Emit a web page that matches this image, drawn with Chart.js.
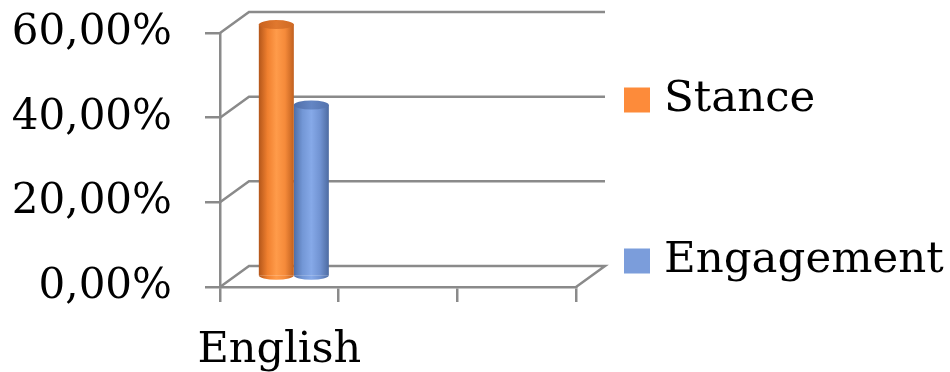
<!DOCTYPE html>
<html>
<head>
<meta charset="utf-8">
<script src="https://cdn.jsdelivr.net/npm/chart.js@4.4.1/dist/chart.umd.min.js"></script>
<style>
  html, body { margin: 0; padding: 0; background: #fff; }
</style>
</head>
<body>
<canvas id="chart" width="950" height="372"></canvas>
<script>
// chart data
const categories = ['English', '', ''];
const stanceValues = [0.595, null, null];
const engagementValues = [0.405, null, null];
const seriesNames = ['Stance', 'Engagement'];
const yTicks = [0, 0.2, 0.4, 0.6];

// look
const FONT = '"DejaVu Serif", "Liberation Serif", serif';
const GRID = '#8a8a8a';
const LINE_W = 2.5;
const DX = 29, DY = -21;           // depth of the 3D box
const swatch = ['#fd8b3a', '#7b9ddb'];
const shades = [
    { side: ['#b3561a', '#f0802f', '#ff9b4a', '#f58a3a', '#c0601f'], top: ['#c9611d', '#e0782e', '#cf6a24'] },
    { side: ['#4f6ea6', '#7397d6', '#86a9e8', '#7193d2', '#4d6ba1'], top: ['#506ea8', '#6486c4', '#5473ad'] }
];

function cylinderGradient(ctx, x0, x1, stops) {
    const g = ctx.createLinearGradient(x0, 0, x1, 0);
    stops.forEach((c, i) => g.addColorStop(i / (stops.length - 1), c));
    return g;
}

function eachBar(chart, fn) {
    chart.data.datasets.forEach((ds, i) => {
        chart.getDatasetMeta(i).data.forEach((bar, j) => {
            if (ds.data[j] == null) return;
            fn(bar, i);
        });
    });
}

const box3d = {
    id: 'box3d',
    beforeDatasetsDraw(chart) {
        const { ctx, chartArea: a, scales: { y } } = chart;
        ctx.save();
        ctx.strokeStyle = GRID;
        ctx.lineWidth = LINE_W;
        yTicks.forEach(v => {
            const py = y.getPixelForValue(v);
            ctx.beginPath();
            ctx.moveTo(a.left, py);
            ctx.lineTo(a.left + DX, py + DY);
            ctx.lineTo(a.right + DX, py + DY);
            if (v === 0) ctx.lineTo(a.right, py);
            ctx.stroke();
        });
        ctx.restore();

        // cylinder shading on the bars chart.js lays out
        eachBar(chart, (bar, i) => {
            const g = cylinderGradient(ctx, bar.x - bar.width / 2, bar.x + bar.width / 2, shades[i].side);
            bar.options = Object.assign({}, bar.options, { backgroundColor: g });
        });
        ctx.save();
        ctx.translate(DX / 2, DY / 2);
    },
    afterDatasetsDraw(chart) {
        const { ctx } = chart;
        eachBar(chart, (bar, i) => {
            const rx = bar.width / 2, ry = 4.5;
            const x0 = bar.x - rx, x1 = bar.x + rx;
            ctx.beginPath();
            ctx.ellipse(bar.x, bar.base, rx, ry, 0, 0, Math.PI);
            ctx.fillStyle = cylinderGradient(ctx, x0, x1, shades[i].side);
            ctx.fill();
            ctx.beginPath();
            ctx.ellipse(bar.x, bar.y, rx, ry, 0, 0, Math.PI * 2);
            ctx.fillStyle = cylinderGradient(ctx, x0, x1, shades[i].top);
            ctx.fill();
        });
        ctx.restore();
    },
    afterDraw(chart) {
        const { ctx } = chart;
        const legendY = [100, 261];
        ctx.save();
        ctx.font = '43.5px ' + FONT;
        ctx.textBaseline = 'middle';
        seriesNames.forEach((name, i) => {
            ctx.fillStyle = swatch[i];
            ctx.fillRect(624, legendY[i] - 12.5, 26, 25);
            ctx.fillStyle = '#000';
            ctx.fillText(name, 664, legendY[i]);
        });
        ctx.restore();
    }
};

new Chart(document.getElementById('chart'), {
    type: 'bar',
    data: {
        labels: categories,
        datasets: [
            { label: seriesNames[0], data: stanceValues, backgroundColor: swatch[0], borderWidth: 0, clip: false },
            { label: seriesNames[1], data: engagementValues, backgroundColor: swatch[1], borderWidth: 0, clip: false }
        ]
    },
    options: {
        responsive: false,
        animation: false,
        layout: { padding: { top: 33, right: 374, left: 0, bottom: 0 } },
        datasets: { bar: { barPercentage: 1, categoryPercentage: 0.59 } },
        plugins: {
            legend: { display: false },
            tooltip: { enabled: false }
        },
        scales: {
            x: {
                grid: { drawOnChartArea: false, drawTicks: true, tickLength: 15, color: GRID, lineWidth: LINE_W },
                border: { display: true, color: GRID, width: LINE_W },
                ticks: { color: '#000', font: { family: FONT, size: 43 }, padding: 23, maxRotation: 0, autoSkip: false },
                afterFit(scale) { scale.height = 85; }
            },
            y: {
                min: 0,
                max: 0.6,
                afterBuildTicks(scale) { scale.ticks = yTicks.map(v => ({ value: v })); },
                grid: { drawOnChartArea: false, drawTicks: true, tickLength: 15, color: GRID, lineWidth: LINE_W },
                border: { display: true, color: GRID, width: LINE_W },
                ticks: {
                    color: '#000',
                    font: { family: FONT, size: 42 },
                    padding: 33,
                    callback: v => (v * 100).toFixed(2).replace('.', ',') + '%'
                },
                afterFit(scale) {
                    scale.width = 220;
                    scale.paddingTop = 0;
                    scale.paddingBottom = 0;
                }
            }
        }
    },
    plugins: [box3d]
});
</script>
</body>
</html>
